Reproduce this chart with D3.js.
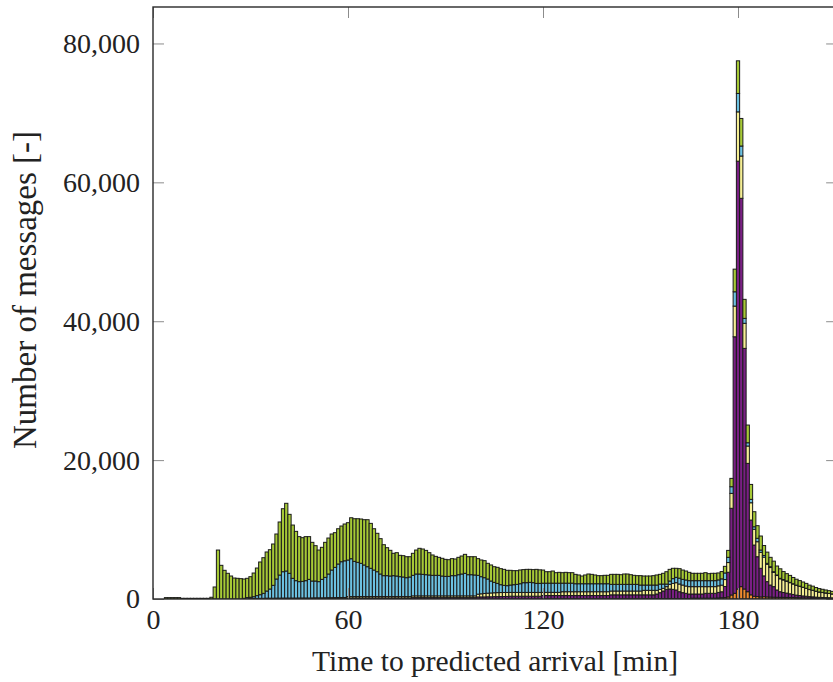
<!DOCTYPE html>
<html><head><meta charset="utf-8">
<script src="https://cdn.jsdelivr.net/npm/d3@7"></script>
<style>body{margin:0;background:#fff} svg{display:block}</style>
</head><body><svg id="c" width="833" height="682"></svg>
<script>
// 1-minute bins (bar centred on each minute)
const minutes = d3.range(0, 210);

const orange = [
0,0,0,0,0,0,0,0,0,0, 0,0,0,0,0,0,0,0,0,0, 0,0,0,0,0,0,0,0,0,0, 0,0,0,0,0,0,0,0,0,0,
0,0,0,0,0,0,0,0,0,0, 0,0,0,0,0,0,0,0,0,0, 0,0,0,0,0,0,0,0,0,0, 0,0,0,0,0,0,0,0,0,0,
0,0,0,0,0,0,0,0,0,0, 0,0,0,0,0,0,0,0,0,0, 0,0,0,0,0,0,0,0,0,0, 0,0,0,0,0,0,0,0,0,0,
30,30,30,30,30,30,30,30,30,30, 30,30,30,30,30,30,30,30,30,30, 30,30,30,30,30,30,30,30,30,30,
30,60,60,60,60,60,60,60,60,60, 60,60,60,60,60,60,120,120,120,120,
120,120,120,120,150,180,200,300,580,820,
1440,1780,1440,1050,600,400,350,300,330,300,
280,260,250,240,240,230,220,210,190,180,
170,160,140,130,120,110,100,90,90,80];

const purple = [
0,0,0,0,0,0,0,0,0,0, 0,0,0,0,0,0,0,0,0,0, 0,0,0,0,0,0,0,0,0,0,
30,30,40,40,40,50,50,50,50,50, 60,60,60,60,60,60,60,60,60,70, 70,70,70,80,80,80,90,90,90,100,
150,150,150,150,150,150,150,150,150,150, 150,150,150,150,150,150,150,150,150,150,
200,200,200,200,200,200,200,200,200,200, 200,200,200,200,200,200,200,200,200,200,
300,300,300,320,320,340,340,350,360,370, 400,400,400,400,400,400,400,400,400,400,
470,470,470,470,470,470,470,470,470,470, 470,470,470,470,470,470,470,470,470,470,
470,570,570,570,570,570,570,570,570,570, 570,540,540,540,540,660,850,1090,1330,1380,
1330,1240,990,850,760,660,600,600,600,600,
700,700,700,700,800,860,1600,3550,12480,36940,
61610,55920,34650,18480,10770,7370,5740,4120,3000,2200,
1730,1520,1050,810,700,620,530,450,370,320,
270,240,200,180,150,130,120,110,100,90];

const yellow = [
0,0,0,0,0,0,0,0,0,0, 0,0,0,0,0,0,0,0,0,0, 0,0,0,0,0,0,0,0,0,0,
50,50,60,60,60,70,70,70,80,80, 80,80,80,80,80,90,90,90,90,90, 100,100,100,100,110,110,110,120,120,120,
200,200,200,200,200,200,200,200,200,200, 200,200,200,200,200,200,200,200,200,200,
250,250,250,250,250,250,250,250,250,250, 250,250,250,250,250,250,250,250,250,250,
400,450,500,520,550,560,580,580,580,570, 550,550,550,550,550,550,550,550,550,550,
460,460,460,460,460,460,550,550,550,550, 550,550,550,550,550,550,550,550,550,550,
550,550,550,550,550,550,550,550,550,550, 550,650,650,650,650,530,480,390,390,670,
860,1050,1110,1100,1050,1060,1060,1060,1060,1060,
960,960,960,960,950,960,1000,1400,2150,4420,
7100,6090,3610,2500,2490,2270,2160,2300,2700,2500,
2520,2050,2080,1860,1800,1700,1600,1500,1400,1320,
1230,1120,1020,940,840,760,710,660,600,550];

const blue = [
0,0,0,0,0,0,0,0,0,0, 0,0,0,0,0,0,0,0,0,0, 0,0,0,0,0,0,0,0,100,200,
170,250,380,520,720,1030,1320,1850,2750,3320,
3790,3890,3560,2840,2500,2350,2390,2490,2680,2430,
2420,2330,2660,2940,3410,3980,4360,4830,5160,5280,
5260,5450,5070,4930,4790,4550,4300,4070,3820,3580,
3250,3010,3010,2960,3010,2960,2865,2820,2720,2820,
2960,3150,3150,3100,3050,3010,2960,2960,2960,2860,
2810,2810,2910,2910,3050,3150,3250,3050,3050,3010,
2710,2465,2270,2040,1720,1500,1330,1130,1030,980,
1060,1110,1160,1250,1400,1400,1450,1400,1300,1300,
1320,1320,1320,1320,1320,1320,1230,1230,1230,1230,
1150,1150,1150,1150,1150,1150,1150,1150,1150,1150,
1150,960,960,960,960,960,960,960,960,960,
860,760,760,760,760,760,760,610,370,480,
680,770,840,820,870,860,860,860,860,860,
860,860,860,860,850,900,950,750,960,2060,
2650,1440,710,470,490,360,490,330,240,140,
120,100,80,70,60,50,50,40,40,30,
30,30,20,20,20,20,20,20,20,20];

const green = [
0,0,0,0,200,200,200,200,200,100,
100,100,100,100,100,100,100,100,250,1730,
7050,4850,4130,3700,3310,3020,2980,2930,2780,2780,
2965,3410,3980,4710,5130,5620,5660,5950,6480,7640,
9070,9750,8490,7670,7100,6480,6290,6340,6150,5570,
5090,4550,4610,5040,5180,5190,4990,5080,5140,5300,
5380,5900,6140,6280,6380,6520,6770,6470,5950,5530,
5090,4460,4030,3700,3220,3360,3075,3070,3020,2920,
3170,3450,3700,3650,3500,3210,2930,2730,2590,2550,
2450,2400,2450,2400,2500,2590,2730,2590,2590,2630,
2400,2405,2450,2260,2310,2250,2310,2310,2300,2210,
2120,2020,1970,1980,1880,1920,1870,1880,2020,1950,
1890,1650,1650,1750,1510,1560,1510,1560,1510,1510,
1350,1260,1110,1260,1400,1350,1260,1160,1160,1210,
1210,1440,1440,1440,1390,1490,1490,1390,1300,1250,
1350,1300,1300,1300,1350,1450,1400,1550,1780,1680,
1490,1300,1370,1340,1290,1200,1060,1060,1060,1060,
1150,1010,1060,1060,1000,1050,950,1000,1200,3260,
4700,3970,2740,2550,2150,2170,1820,2020,1430,1610,
1350,1520,1290,1370,1150,1050,1000,900,850,800,
750,700,620,580,520,480,450,420,390,360];

const seriesKeys = ["orange", "purple", "yellow", "blue", "green"];
const seriesColors = ["#f08a2e", "#7a1f84", "#f6ef94", "#6cc1e1", "#a6c936"];
const xTickValues = [0, 60, 120, 180];
const yTickValues = [0, 20000, 40000, 60000, 80000];
const xLabel = "Time to predicted arrival [min]";
const yLabel = "Number of messages [-]";

const table = minutes.map((m, i) => ({minute: m, orange: orange[i], purple: purple[i], yellow: yellow[i], blue: blue[i], green: green[i]}));

const L = 153, T = 7, B = 599;
const x = d3.scaleLinear().domain([0, 210.5]).range([L, L + 210.5 * 3.25]);
const y = d3.scaleLinear().domain([0, 85250]).range([B, T]);
const R = x(210.5);
const svg = d3.select("#c");
const font = "'Liberation Serif', serif";

svg.append("defs").append("clipPath").attr("id", "clip")
  .append("rect").attr("x", L).attr("y", T).attr("width", R - L).attr("height", B - T);

const stack = d3.stack().keys(seriesKeys)(table);
const bw = x(1) - x(0);
const g = svg.append("g").attr("clip-path", "url(#clip)");
stack.forEach((layer, li) => {
  g.append("g").attr("fill", seriesColors[li]).attr("stroke", "#1a1a1a").attr("stroke-width", 1)
   .selectAll("rect").data(layer.filter(d => d[1] - d[0] > 0)).join("rect")
   .attr("x", d => x(d.data.minute) - bw / 2)
   .attr("width", bw)
   .attr("y", d => y(d[1]))
   .attr("height", d => y(d[0]) - y(d[1]));
});

function styleAxis(sel, labels) {
  sel.select(".domain").remove();
  sel.selectAll(".tick line").attr("stroke", "#8c8c8c").attr("stroke-width", 1);
  sel.selectAll(".tick text").attr("font-family", font).attr("font-size", 28).attr("fill", "#222");
  if (!labels) sel.selectAll(".tick text").remove();
}
const tk = 11;
svg.append("g").attr("transform", `translate(0,${B})`)
  .call(d3.axisBottom(x).tickValues(xTickValues).tickSizeInner(-tk).tickSizeOuter(0).tickPadding(10).tickFormat(d3.format("d")))
  .call(s => styleAxis(s, true));
svg.append("g").attr("transform", `translate(0,${T})`)
  .call(d3.axisTop(x).tickValues(xTickValues).tickSizeInner(-tk).tickSizeOuter(0))
  .call(s => styleAxis(s, false));
svg.append("g").attr("transform", `translate(${L},0)`)
  .call(d3.axisLeft(y).tickValues(yTickValues).tickSizeInner(-tk).tickSizeOuter(0).tickPadding(13).tickFormat(d3.format(",")))
  .call(s => styleAxis(s, true));
svg.append("g").attr("transform", `translate(${R},0)`)
  .call(d3.axisRight(y).tickValues(yTickValues).tickSizeInner(-tk).tickSizeOuter(0))
  .call(s => styleAxis(s, false));

svg.append("rect").attr("x", L).attr("y", T).attr("width", R - L).attr("height", B - T)
  .attr("fill", "none").attr("stroke", "#2a2a2a").attr("stroke-width", 1.4);

svg.append("text").attr("x", (L + R) / 2).attr("y", 671).attr("text-anchor", "middle")
  .attr("font-family", font).attr("font-size", 29.5).attr("fill", "#222").text(xLabel);
svg.append("text").attr("transform", `translate(36,290) rotate(-90)`).attr("text-anchor", "middle")
  .attr("font-family", font).attr("font-size", 33).attr("fill", "#222").text(yLabel);
</script></body></html>
